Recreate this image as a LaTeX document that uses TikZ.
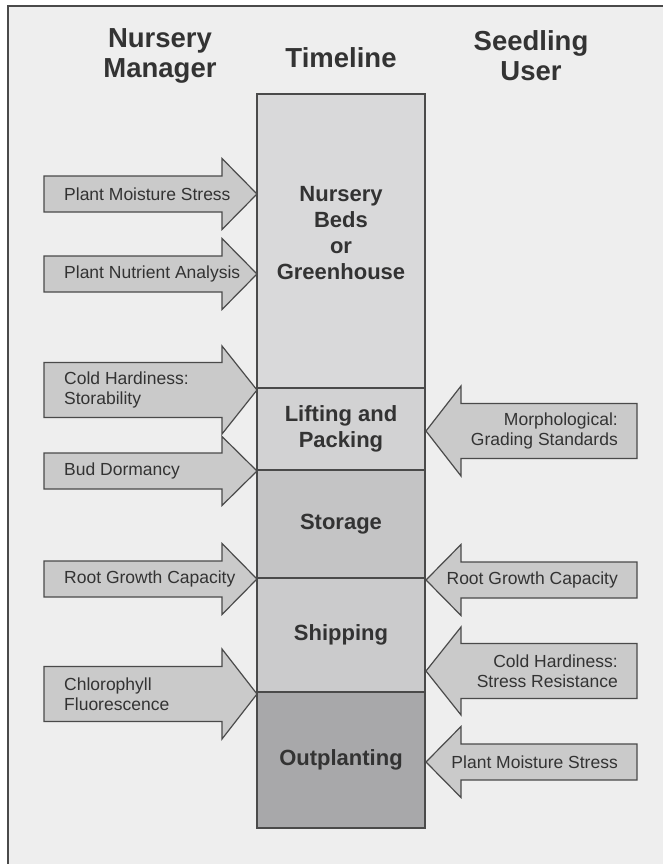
\documentclass[tikz,border=0pt]{standalone}
\usepackage{fontspec}
\setmainfont{Liberation Sans}
\definecolor{panelgray}{HTML}{EEEEEE}
\definecolor{linegray}{HTML}{4A4A4A}
\definecolor{inkgray}{HTML}{333333}
\definecolor{arrowgray}{HTML}{CACACA}
\definecolor{bedsgray}{HTML}{D9D9DA}
\definecolor{liftgray}{HTML}{D2D2D3}
\definecolor{storegray}{HTML}{C4C4C5}
\definecolor{shipgray}{HTML}{CBCBCC}
\definecolor{plantgray}{HTML}{A8A8AA}
\newcommand{\mgrarrow}[5]{%
	\draw[arrowbox] (44,#2-#3) -- (222,#2-#3) -- (222,#2-#4) -- (257,#2) -- (222,#2+#4) -- (222,#2+#3) -- (44,#2+#3) -- cycle;
	\node[mtext, anchor=west] (#1) at (64,#2) {#5};}
\newcommand{\userarrow}[5]{%
	\draw[arrowbox] (637,#2-#3) -- (461,#2-#3) -- (461,#2-#4) -- (426,#2) -- (461,#2+#4) -- (461,#2+#3) -- (637,#2+#3) -- cycle;
	\node[utext, anchor=east] (#1) at (618,#2) {#5};}
\begin{document}
\begin{tikzpicture}[x=1pt, y=-1pt,
                    heading/.style = {font=\fontsize{27.5}{30}\selectfont\bfseries,
                                      text=inkgray,
                                      align=center},
                    stagetext/.style = {font=\fontsize{22}{26}\selectfont\bfseries,
                                        text = inkgray,
                                        align = center},
                    stage/.style = {shape = rectangle,
                                    stagetext,
                                    draw = linegray,
                                    line width = 1.4pt,
                                    minimum width = 168pt,
                                    inner sep = 0pt},
                    arrowbox/.style = {draw = linegray,
                                       fill = arrowgray,
                                       line width = 1.2pt},
                    mtext/.style = {font=\fontsize{17.5}{20}\selectfont,
                                    text = inkgray,
                                    inner sep = 0pt,
                                    align = left},
                    utext/.style = {mtext, align = right}]
		\useasboundingbox (0,0) rectangle (663,864);
		\fill[white] (0,0) rectangle (663,864);
		\draw[fill=panelgray, draw=linegray, line width=1.4pt] (8,6) rectangle (700,900);
		\node[heading] (manager) at (160,56) {Nursery\\Manager};
		\node[heading] (timeline) at (341,58) {Timeline};
		\node[heading] (user) at (531,56) {Seedling\\User};
		\node[stage, fill=bedsgray, minimum height=294pt] (beds) at (341,241) {};
		\node[stagetext] (bedslabel) at (341,233) {Nursery\\Beds\\or\\Greenhouse};
		\node[stage, fill=liftgray, minimum height=82pt] (lifting) at (341,429) {Lifting and\\Packing};
		\node[stage, fill=storegray, minimum height=108pt] (storage) at (341,524) {Storage};
		\node[stage, fill=shipgray, minimum height=114pt] (shipping) at (341,635) {Shipping};
		\node[stage, fill=plantgray, minimum height=136pt] (outplanting) at (341,760) {Outplanting};
		\mgrarrow{mstress}{194}{18}{35.5}{Plant Moisture Stress}
		\mgrarrow{nutrient}{274}{18}{35.5}{Plant Nutrient Analysis}
		\mgrarrow{storability}{390}{27.5}{44}{Cold Hardiness:\\Storability}
		\mgrarrow{dormancy}{471}{18}{34.5}{Bud Dormancy}
		\mgrarrow{mroot}{579}{18}{35.5}{Root Growth Capacity}
		\mgrarrow{fluorescence}{694}{27.5}{45}{Chlorophyll\\Fluorescence}
		\userarrow{grading}{431}{27.5}{45}{Morphological:\\Grading Standards}
		\userarrow{uroot}{580}{18}{35.5}{Root Growth Capacity}
		\userarrow{resistance}{671}{27.5}{44}{Cold Hardiness:\\Stress Resistance}
		\userarrow{ustress}{762}{18}{35.5}{Plant Moisture Stress}
	\end{tikzpicture}
\end{document}
